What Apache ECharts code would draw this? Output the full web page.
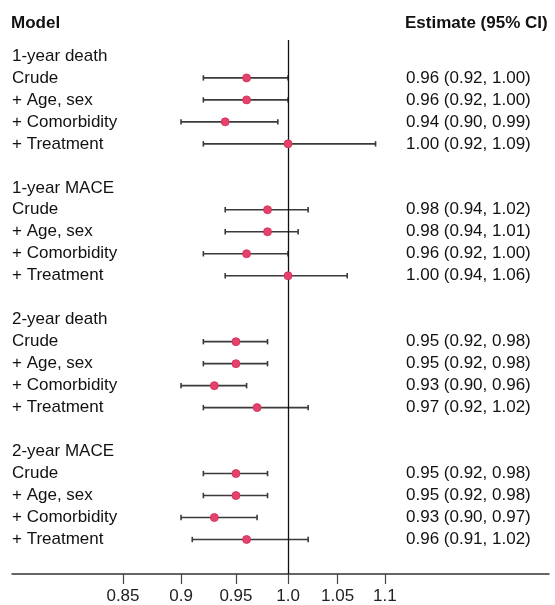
<!DOCTYPE html>
<html>
<head>
<meta charset="utf-8">
<script src="https://cdn.jsdelivr.net/npm/echarts@6/dist/echarts.min.js"></script>
<style>html,body{margin:0;padding:0;background:#fff;}#c{width:555px;height:605px;}</style>
</head>
<body>
<div id="c"></div>
<script>
var groups = ['1-year death', '1-year MACE', '2-year death', '2-year MACE'];
var models = ['Crude', '+ Age, sex', '+ Comorbidity', '+ Treatment'];
var est1yDeath = [0.96, 0.96, 0.94, 1.00];
var lo1yDeath  = [0.92, 0.92, 0.90, 0.92];
var hi1yDeath  = [1.00, 1.00, 0.99, 1.09];
var est1yMace  = [0.98, 0.98, 0.96, 1.00];
var lo1yMace   = [0.94, 0.94, 0.92, 0.94];
var hi1yMace   = [1.02, 1.01, 1.00, 1.06];
var est2yDeath = [0.95, 0.95, 0.93, 0.97];
var lo2yDeath  = [0.92, 0.92, 0.90, 0.92];
var hi2yDeath  = [0.98, 0.98, 0.96, 1.02];
var est2yMace  = [0.95, 0.95, 0.93, 0.96];
var lo2yMace   = [0.92, 0.92, 0.90, 0.91];
var hi2yMace   = [0.98, 0.98, 0.97, 1.02];
var tickValues = [0.85, 0.9, 0.95, 1.0, 1.05, 1.1];
var tickLabels = ['0.85', '0.9', '0.95', '1.0', '1.05', '1.1'];

var ests = [est1yDeath, est1yMace, est2yDeath, est2yMace];
var los = [lo1yDeath, lo1yMace, lo2yDeath, lo2yMace];
var his = [hi1yDeath, hi1yMace, hi2yDeath, hi2yMace];

var FONT = 'Liberation Sans, Arial, sans-serif';
var leftLabels = {}, rightLabels = {};
var pts = [], bars = [];
function f2(v){ return v.toFixed(2); }
groups.forEach(function (g, gi) {
  var base = gi * 6;
  leftLabels[base] = g;
  models.forEach(function (m, mi) {
    var r = base + 1 + mi;
    leftLabels[r] = m;
    var e = ests[gi][mi], l = los[gi][mi], h = his[gi][mi];
    rightLabels[r] = f2(e) + ' (' + f2(l) + ', ' + f2(h) + ')';
    pts.push([Math.log(e), r]);
    bars.push([Math.log(l), Math.log(h), r]);
  });
});
var leftVals = Object.keys(leftLabels).map(Number);
var rightVals = Object.keys(rightLabels).map(Number);
var logTicks = tickValues.map(function (v) { return Math.log(v); });

var yMin = -0.725, yMax = 23.57;
function yAxisCfg(pos, labels, vals, extra) {
  var lab = Object.assign({
    show: true, inside: true, margin: 0,
    customValues: vals,
    formatter: function (v) { var k = Math.round(v); return labels[k] || ''; },
    color: '#111', fontSize: 17, fontFamily: FONT
  }, extra || {});
  return {
    type: 'value', position: pos, inverse: true, min: yMin, max: yMax,
    axisLine: { show: false, onZero: false }, axisTick: { show: false }, splitLine: { show: false },
    axisLabel: lab
  };
}

var chart = echarts.init(document.getElementById('c'), null, { renderer: 'canvas' });
chart.setOption({
  animation: false,
  backgroundColor: '#fff',
  title: [
    { text: 'Model', left: 11, top: 15, padding: 0,
      textStyle: { fontSize: 17, fontWeight: 'bold', color: '#111', fontFamily: FONT } },
    { text: 'Estimate (95% CI)', left: 405, top: 15, padding: 0,
      textStyle: { fontSize: 17, fontWeight: 'bold', color: '#111', fontFamily: FONT } }
  ],
  grid: { left: 12, right: 6, top: 40, bottom: 29, containLabel: false },
  xAxis: {
    type: 'value', position: 'bottom', min: Math.log(0.762), max: Math.log(1.293),
    axisLine: { show: true, onZero: false, lineStyle: { color: '#333', width: 1.5 } },
    axisTick: { show: true, customValues: logTicks, length: 10, lineStyle: { color: '#444', width: 1.2 } },
    axisLabel: {
      customValues: logTicks, margin: 14,
      formatter: function (v) {
        var best = 0, bd = 1e9;
        logTicks.forEach(function (t, i) { var d = Math.abs(t - v); if (d < bd) { bd = d; best = i; } });
        return tickLabels[best];
      },
      color: '#222', fontSize: 17, fontFamily: FONT
    },
    splitLine: { show: false }
  },
  yAxis: [
    yAxisCfg('left', leftLabels, leftVals),
    yAxisCfg('right', rightLabels, rightVals, { margin: 143, align: 'left' })
  ],
  series: [
    {
      type: 'custom', z: 2, silent: true,
      data: bars,
      encode: { x: [0, 1], y: 2 },
      renderItem: function (params, api) {
        var y = api.value(2);
        var p1 = api.coord([api.value(0), y]);
        var p2 = api.coord([api.value(1), y]);
        var c = 2.7;
        var st = { stroke: '#3a3a3a', lineWidth: 1.6 };
        return { type: 'group', children: [
          { type: 'line', shape: { x1: p1[0], y1: p1[1], x2: p2[0], y2: p2[1] }, style: st },
          { type: 'line', shape: { x1: p1[0], y1: p1[1] - c, x2: p1[0], y2: p1[1] + c }, style: st },
          { type: 'line', shape: { x1: p2[0], y1: p2[1] - c, x2: p2[0], y2: p2[1] + c }, style: st }
        ] };
      },
      markLine: {
        silent: true, symbol: 'none', label: { show: false },
        lineStyle: { color: '#111', width: 1.3, type: 'solid' },
        data: [{ xAxis: 0 }]
      }
    },
    {
      type: 'scatter', z: 5, silent: true,
      data: pts, symbol: 'circle', symbolSize: 8,
      itemStyle: { color: '#e6416b', borderColor: '#d02c55', borderWidth: 0.8, opacity: 1 }
    }
  ]
});
</script>
</body>
</html>
